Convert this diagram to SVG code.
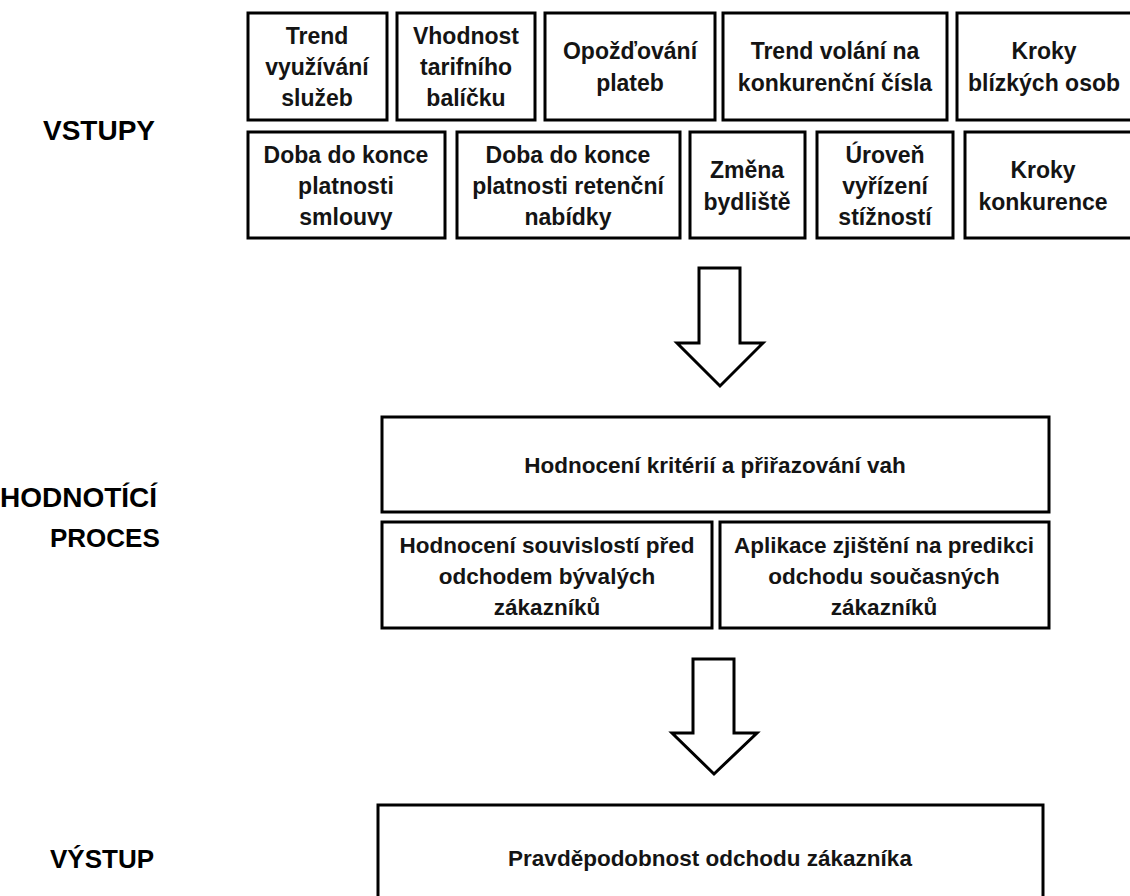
<svg xmlns="http://www.w3.org/2000/svg" width="1130" height="896" viewBox="0 0 1130 896">
<style>
.box{fill:#fff;stroke:#000;stroke-width:3}
.t{font-family:"Liberation Sans",Arial,sans-serif;font-weight:bold;font-size:23px;fill:#141414;text-anchor:middle}
.m{font-family:"Liberation Sans",Arial,sans-serif;font-weight:bold;font-size:22.5px;fill:#141414;text-anchor:middle}
.lab{font-family:"Liberation Sans",Arial,sans-serif;font-weight:bold;font-size:28px;fill:#000}
.lab2{font-family:"Liberation Sans",Arial,sans-serif;font-weight:bold;font-size:26px;fill:#000}
.arr{fill:#fff;stroke:#000;stroke-width:3;stroke-linejoin:miter}
</style>
<rect width="1130" height="896" fill="#fff"/>
<g id="labels">
<text class="lab" x="43" y="140">VSTUPY</text>
<text class="lab" x="0" y="507">HODNOTÍCÍ</text>
<text class="lab2" x="50" y="547">PROCES</text>
<text class="lab2" x="50" y="868">VÝSTUP</text>
</g>
<g id="n1"><rect class="box" x="248" y="13" width="139" height="107"/>
<text class="t" x="317" y="44">Trend</text><text class="t" x="317" y="75">využívání</text><text class="t" x="317" y="106">služeb</text></g>
<g id="n2"><rect class="box" x="397" y="13" width="138" height="107"/>
<text class="t" x="466" y="44">Vhodnost</text><text class="t" x="466" y="75">tarifního</text><text class="t" x="466" y="106">balíčku</text></g>
<g id="n3"><rect class="box" x="545" y="13" width="170" height="107"/>
<text class="t" x="630" y="59">Opožďování</text><text class="t" x="630" y="91">plateb</text></g>
<g id="n4"><rect class="box" x="723" y="13" width="224" height="107"/>
<text class="t" x="835" y="59">Trend volání na</text><text class="t" x="835" y="91">konkurenční čísla</text></g>
<g id="n5"><rect class="box" x="957" y="13" width="180" height="107"/>
<text class="t" x="1044" y="59">Kroky</text><text class="t" x="1044" y="91">blízkých osob</text></g>
<g id="n6"><rect class="box" x="248" y="132" width="197" height="106"/>
<text class="t" x="346" y="163">Doba do konce</text><text class="t" x="346" y="194">platnosti</text><text class="t" x="346" y="225">smlouvy</text></g>
<g id="n7"><rect class="box" x="457" y="132" width="223" height="106"/>
<text class="t" x="568" y="163">Doba do konce</text><text class="t" x="568" y="194">platnosti retenční</text><text class="t" x="568" y="225">nabídky</text></g>
<g id="n8"><rect class="box" x="690" y="132" width="115" height="106"/>
<text class="t" x="747" y="178">Změna</text><text class="t" x="747" y="210">bydliště</text></g>
<g id="n9"><rect class="box" x="817" y="132" width="136" height="106"/>
<text class="t" x="885" y="163">Úroveň</text><text class="t" x="885" y="194">vyřízení</text><text class="t" x="885" y="225">stížností</text></g>
<g id="n10"><rect class="box" x="965" y="132" width="172" height="106"/>
<text class="t" x="1043" y="178">Kroky</text><text class="t" x="1043" y="210">konkurence</text></g>
<g id="n11"><rect class="box" x="382" y="417" width="667" height="95"/>
<text class="m" x="715" y="473">Hodnocení kritérií a přiřazování vah</text></g>
<g id="n12"><rect class="box" x="382" y="522" width="330" height="106"/>
<text class="m" x="547" y="553">Hodnocení souvislostí před</text><text class="m" x="547" y="584">odchodem bývalých</text><text class="m" x="547" y="615">zákazníků</text></g>
<g id="n13"><rect class="box" x="720" y="522" width="329" height="106"/>
<text class="m" x="884" y="553">Aplikace zjištění na predikci</text><text class="m" x="884" y="584">odchodu současných</text><text class="m" x="884" y="615">zákazníků</text></g>
<g id="n14"><rect class="box" x="378" y="805" width="665" height="110"/>
<text class="m" x="710" y="866">Pravděpodobnost odchodu zákazníka</text></g>
<g id="connectors">
<polygon class="arr" points="699,268 740,268 740,343 763,343 720,386 677,343 699,343"/>
<polygon class="arr" points="693,659 734,659 734,733 757,733 714,774 672,733 693,733"/>
</g>
</svg>
